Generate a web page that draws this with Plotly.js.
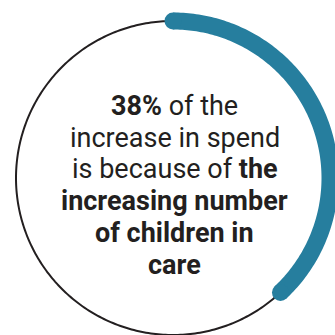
<!DOCTYPE html>
<html><head><meta charset="utf-8">
<script src="https://cdn.plot.ly/plotly-3.0.1.min.js"></script>
<style>html,body{margin:0;padding:0;background:#fff}#chart{width:335px;height:335px}</style>
</head><body><div id="chart"></div>
<script>
// Data
const categories = ['Increasing number of children in care', 'Other factors'];
const shareValues = [38, 62]; // percent of the increase in spend
const textLines = [
  '<b>38%</b> of the',
  'increase in spend',
  'is because of <b>the</b>',
  '<b>increasing number</b>',
  '<b>of children in</b>',
  '<b>care</b>'
];

// Arc geometry derived from the share (clockwise from 12 o'clock)
function arcPoints(fromPct, toPct) {
  const xs = [], ys = [];
  const steps = Math.max(2, Math.round((toPct - fromPct) * 4));
  for (let i = 0; i <= steps; i++) {
    const p = fromPct + (toPct - fromPct) * i / steps;
    const a = 2 * Math.PI * p / 100;
    xs.push(Math.sin(a));
    ys.push(Math.cos(a));
  }
  return {xs, ys};
}

const full = arcPoints(0, 100);
const part = arcPoints(0, shareValues[0]);
const blue = '#267e9e';
const ink = '#231f20';

const traces = [
  {type: 'scatter', mode: 'lines', x: full.xs, y: full.ys,
   line: {color: ink, width: 2, simplify: false}, hoverinfo: 'skip', name: 'Total'},
  {type: 'scatter', mode: 'lines', x: part.xs, y: part.ys,
   line: {color: blue, width: 17, simplify: false}, hoverinfo: 'skip', name: categories[0]},
  {type: 'scatter', mode: 'markers', cliponaxis: false,
   x: [part.xs[0], part.xs[part.xs.length - 1]],
   y: [part.ys[0], part.ys[part.ys.length - 1]],
   marker: {color: blue, size: 17, line: {width: 0}}, hoverinfo: 'skip', name: 'caps'}
];

const R = 157, cx = 173, cy = 178, W = 335, H = 335;
const fs = 27;
const baselines = [116, 147.5, 179, 211, 243, 275];
const annotations = textLines.map((t, i) => ({
  x: 1.5 / R, y: (cy - (baselines[i] - 0.36 * fs)) / R, xref: 'x', yref: 'y',
  text: t, showarrow: false,
  xanchor: 'center', yanchor: 'middle', align: 'center',
  font: {family: 'Roboto, sans-serif', size: fs, color: ink}
}));

const layout = {
  width: W, height: H,
  margin: {l: 0, r: 0, t: 0, b: 0},
  paper_bgcolor: '#ffffff', plot_bgcolor: '#ffffff',
  showlegend: false,
  xaxis: {range: [-cx / R, (W - cx) / R], visible: false, fixedrange: true},
  yaxis: {range: [-(H - cy) / R, cy / R], visible: false, fixedrange: true},
  annotations: annotations
};

Plotly.newPlot('chart', traces, layout, {displayModeBar: false, staticPlot: true});
</script>
</body></html>
